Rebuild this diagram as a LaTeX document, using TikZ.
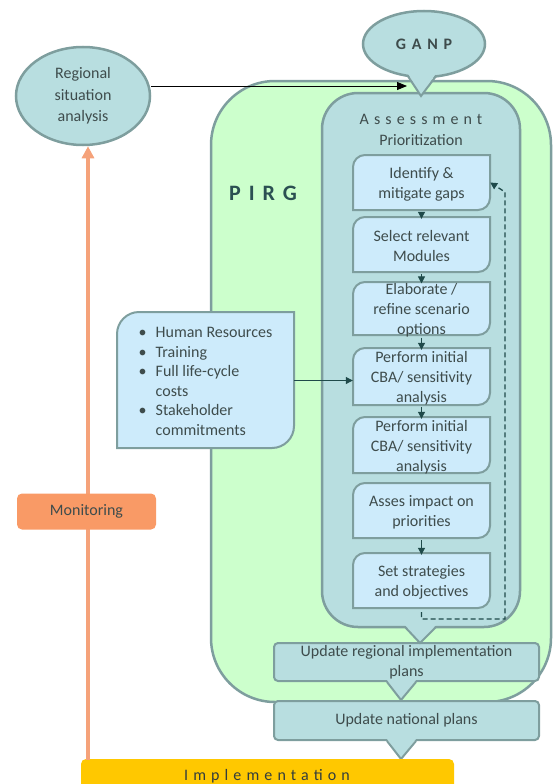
\documentclass[tikz,border=0pt]{standalone}
\usepackage{fontspec}
\setmainfont{Carlito}
\newfontfamily\spacedA[LetterSpace=32]{Carlito}
\newfontfamily\spacedB[LetterSpace=36]{Carlito}
\usetikzlibrary{shapes.geometric,arrows.meta,calc}
\definecolor{grn}{HTML}{CCFFCC}
\definecolor{bord}{HTML}{7E9E9E}
\definecolor{tealf}{HTML}{B8DEE0}
\definecolor{stepf}{HTML}{CDEBFB}
\definecolor{txt}{HTML}{3E4C4C}
\definecolor{arr}{HTML}{1F4A4A}
\definecolor{pirgc}{HTML}{2B5052}
\definecolor{orl}{HTML}{F5A27A}
\definecolor{orf}{HTML}{F99A66}
\definecolor{yel}{HTML}{FFC800}
% round-diagonal-corner shape: style, x1, y1, x2, y2, r (pixel coords, y down)
\newcommand\rdshape[6]{%
  \path[#1] (#2,#5) -- (#2,{#3+#6}) .. controls (#2,{#3+0.45*#6}) and ({#2+0.45*#6},#3) .. ({#2+#6},#3)
    -- (#4,#3) -- (#4,{#5-#6}) .. controls (#4,{#5-0.45*#6}) and ({#4-0.45*#6},#5) .. ({#4-#6},#5) -- cycle;}
\begin{document}
\begin{tikzpicture}[x=1pt,y=-1pt,
  every node/.style={text=txt,font=\fontsize{16}{20}\selectfont},
  stepshape/.style={fill=stepf,draw=bord,line width=2pt},
  steptext/.style={minimum width=137pt,inner sep=0pt,align=center},
  flowarrow/.style={draw=arr,line width=1pt,-{Triangle[width=7pt,length=7pt]}},
  feedback/.style={draw=arr,line width=1.3pt,dash pattern=on 5pt off 3pt,-{Triangle[width=7pt,length=7pt]}},
  pointerfill/.style={fill=tealf},
  pointerside/.style={draw=bord,line width=2pt},
  planbox/.style={fill=tealf,draw=bord,line width=2pt,rounded corners=4pt,minimum width=265pt,inner sep=0pt,align=center},
  container/.style={draw=bord,line width=2.5pt},
  bubble/.style={ellipse,draw=bord,fill=tealf,line width=2.5pt,inner sep=0pt,align=center}
]
\useasboundingbox (0,0) rectangle (553,784);
\clip (0,0) rectangle (553,784);
% PIRG container
\draw[container,fill=grn,rounded corners=64pt] (211,81) rectangle (551,702);
% Assessment container
\draw[container,fill=tealf,rounded corners=36pt] (322,93) rectangle (520,627);
% step shapes
\rdshape{stepshape}{353}{155}{490}{210}{12}
\rdshape{stepshape}{353}{217}{490}{272}{12}
\rdshape{stepshape}{353}{282}{490}{335}{12}
\rdshape{stepshape}{353}{348}{490}{405}{12}
\rdshape{stepshape}{353}{417}{490}{473}{12}
\rdshape{stepshape}{353}{483}{490}{538}{12}
\rdshape{stepshape}{353}{553}{490}{608}{12}
% side box
\rdshape{stepshape}{117}{312}{294}{448}{22}
% plan boxes
\node[planbox,minimum height=38pt] (upreg) at (406.5,662) {Update regional implementation\\plans};
\node[planbox,minimum height=39pt] (upnat) at (406.5,720.5) {Update national plans};
% pointers
\fill[pointerfill] (405,625) -- (420,643) -- (436,625) -- cycle;
\draw[pointerside] (405,627) -- (420,643) -- (436,627);
\fill[pointerfill] (387,680) -- (401,700) -- (416,680) -- cycle;
\draw[pointerside] (387,682) -- (401,700) -- (416,682);
\fill[pointerfill] (387,739) -- (401,759) -- (416,739) -- cycle;
\draw[pointerside] (387,741) -- (401,759) -- (416,741);
% implementation bar
\fill[yel,rounded corners=5pt] (81,759) rectangle (454,810);
\node[font=\spacedA\fontsize{16}{20}\selectfont,text=txt!80!black] (impl) at (267,776) {Implementation};
% ellipses
\node[bubble,minimum width=134pt,minimum height=98pt,font=\fontsize{16}{21.5}\selectfont] (rsa) at (83,96) {Regional\\situation\\analysis};
\node[bubble,minimum width=122pt,minimum height=66pt,font=\spacedB\bfseries\fontsize{16}{20}\selectfont] (ganp) at (424,44) {GANP};
\fill[pointerfill] (407,72) -- (421,96) -- (437,72) -- cycle;
\draw[pointerside] (407.5,75.5) -- (421,96) -- (436.5,75.5);
% monitoring line
\coordinate (orangebot) at (88,760);
\draw[orl,line width=3.5pt,-{Triangle[width=12pt,length=12pt]}] (orangebot) -- (orangebot |- rsa.south);
\node[fill=orf,rounded corners=5pt,minimum width=139pt,minimum height=36pt,inner sep=0pt] (mon) at (86.5,511.5) {Monitoring};
% GANP input arrow
\coordinate (ganpin) at (407,86);
\draw[black,line width=0.9pt,-{Triangle[width=8pt,length=10pt]}] (rsa.east |- ganpin) -- (ganpin);
% labels
\node[text=pirgc,font=\spacedB\bfseries\fontsize{22}{26}\selectfont] (pirg) at (263,193) {PIRG};
\node[align=center,font=\fontsize{16}{21}\selectfont] (assess) at (421,130) {{\spacedA Assessment}\\Prioritization};
% steps
\node[steptext,minimum height=55pt] (s1) at (421.5,184.5) {Identify \&\\mitigate gaps};
\node[steptext,minimum height=55pt] (s2) at (421.5,246.5) {Select relevant\\Modules};
\node[steptext,minimum height=53pt] (s3) at (421.5,310.5) {Elaborate /\\refine scenario\\options};
\node[steptext,minimum height=57pt] (s4) at (421.5,378.5) {Perform initial\\CBA/ sensitivity\\analysis};
\node[steptext,minimum height=56pt] (s5) at (421.5,447) {Perform initial\\CBA/ sensitivity\\analysis};
\node[steptext,minimum height=55pt] (s6) at (421.5,512.5) {Asses impact on\\priorities};
\node[steptext,minimum height=55pt] (s7) at (421.5,582.5) {Set strategies\\and objectives};
% side list
\node[minimum width=177pt,minimum height=136pt,inner sep=0pt,font=\fontsize{16}{19.6}\selectfont] (side) at (205.5,382.5) {%
\begin{tabular}{@{}p{17pt}@{}l@{}}
\textbullet & Human Resources\\
\textbullet & Training\\
\textbullet & Full life-cycle\\
 & costs\\
\textbullet & Stakeholder\\
 & commitments
\end{tabular}};
% connectors
\draw[flowarrow] (s1.south) -- (s2.north);
\draw[flowarrow] (s2.south) -- (s3.north);
\draw[flowarrow] (s3.south) -- (s4.north);
\draw[flowarrow] (s4.south) -- (s5.north);
\draw[flowarrow] (s6.south) -- (s7.north);
\draw[flowarrow] ([yshift=2pt]side.east) -- ([yshift=2pt]side.east -| s4.west);
\coordinate (fbkbot) at (505,619);
\coordinate (fbktop) at (505,192);
\draw[feedback] ($(s7.south)+(0,2)$) |- (fbkbot) -- (fbktop) -- ([yshift=2pt]s1.east);
\end{tikzpicture}
\end{document}
